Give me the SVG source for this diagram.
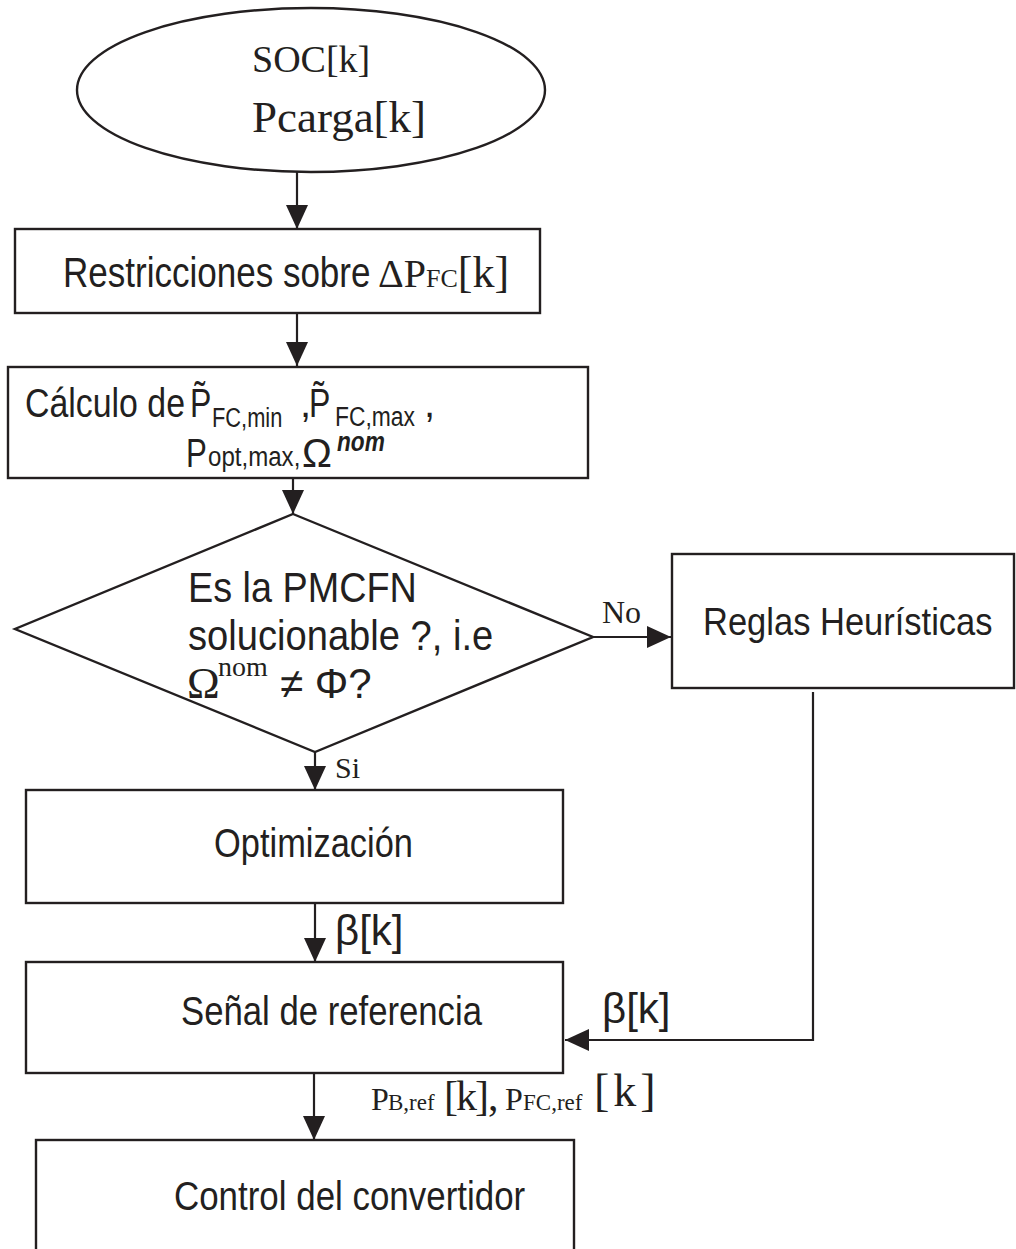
<svg xmlns="http://www.w3.org/2000/svg" width="1016" height="1249" viewBox="0 0 1016 1249">
  <style>
    .shape { fill: #ffffff; stroke: #231f20; stroke-width: 2.4; }
    .wire { fill: none; stroke: #231f20; stroke-width: 2.2; }
    .sans { font-family: "Liberation Sans", Arial, sans-serif; fill: #231f20; }
    .serif { font-family: "Liberation Serif", "Times New Roman", serif; fill: #231f20; }
  </style>
  <defs>
    <marker id="arrow" markerUnits="userSpaceOnUse" markerWidth="24" markerHeight="22" refX="24" refY="11" orient="auto">
      <path d="M0,0 L24,11 L0,22 z" fill="#231f20"/>
    </marker>
  </defs>

  <rect width="1016" height="1249" fill="#ffffff"/>

  <!-- connectors and their labels -->
  <g id="connectors">
    <line class="wire" x1="297" y1="172" x2="297" y2="229" marker-end="url(#arrow)"/>
    <line class="wire" x1="297" y1="313" x2="297" y2="366" marker-end="url(#arrow)"/>
    <line class="wire" x1="293" y1="478" x2="293" y2="514" marker-end="url(#arrow)"/>
    <line class="wire" x1="593" y1="637" x2="671" y2="637" marker-end="url(#arrow)"/>
    <line class="wire" x1="315" y1="752" x2="315" y2="790" marker-end="url(#arrow)"/>
    <line class="wire" x1="315" y1="903" x2="315" y2="962" marker-end="url(#arrow)"/>
    <line class="wire" x1="314" y1="1073" x2="314" y2="1140" marker-end="url(#arrow)"/>
    <polyline class="wire" points="813,692 813,1040 565,1040" marker-end="url(#arrow)"/>
    <text class="serif" x="602" y="623" font-size="32">No</text>
    <text class="serif" x="335" y="778" font-size="30">Si</text>
    <text class="sans" x="335" y="945" font-size="42">β[k]</text>
    <text class="sans" x="602" y="1023" font-size="42">β[k]</text>
    <text class="serif" y="1110">
      <tspan x="371" font-size="32">P</tspan><tspan x="388" font-size="23">B,ref</tspan><tspan x="444" font-size="42">[</tspan><tspan x="456" font-size="42">k</tspan><tspan x="475" font-size="42">]</tspan><tspan x="488" font-size="42">,</tspan><tspan x="505" font-size="32">P</tspan><tspan x="523" font-size="23">FC,ref</tspan><tspan x="594" y="1106" font-size="46" letter-spacing="4">[k]</tspan>
    </text>
  </g>

  <!-- start: inputs -->
  <g id="inputs">
    <ellipse class="shape" cx="311" cy="90" rx="234" ry="82"/>
    <text class="serif" x="252" y="72" font-size="38">SOC[k]</text>
    <text class="serif" x="252" y="132" font-size="45">Pcarga[k]</text>
  </g>

  <!-- constraints on the fuel-cell power step -->
  <g id="restricciones">
    <rect class="shape" x="15" y="229" width="525" height="84"/>
    <text class="sans" font-size="42" transform="translate(63 287) scale(0.834 1)">Restricciones sobre</text>
    <text class="serif" y="287">
      <tspan x="378" font-size="40">ΔP</tspan><tspan font-size="26">FC</tspan><tspan font-size="44">[k]</tspan>
    </text>
  </g>

  <!-- bounds computation -->
  <g id="calculo">
    <rect class="shape" x="8" y="367" width="580" height="111"/>
    <text class="sans" font-size="40" transform="translate(25 417) scale(0.847 1)">Cálculo de</text>
    <text class="sans" font-size="40" transform="translate(190 417) scale(0.8 1)">P̃</text>
    <text class="sans" font-size="28" transform="translate(212 427) scale(0.78 1)">FC,min</text>
    <text class="sans" x="300" y="417" font-size="40">,</text>
    <text class="sans" font-size="40" transform="translate(309 417) scale(0.8 1)">P̃</text>
    <text class="sans" font-size="28" transform="translate(335 426) scale(0.816 1)">FC,max</text>
    <text class="sans" x="424" y="417" font-size="40">,</text>
    <text class="sans" font-size="40" transform="translate(186 467) scale(0.78 1)">P</text>
    <text class="sans" font-size="28" transform="translate(208 466) scale(0.86 1)">opt,max,</text>
    <text class="sans" x="302" y="467" font-size="40">Ω</text>
    <text class="sans" font-size="27" font-weight="bold" font-style="italic" transform="translate(337 451) scale(0.84 1)">nom</text>
  </g>

  <!-- feasibility decision -->
  <g id="decision">
    <polygon class="shape" points="293,514 593,637 315,752 15,629"/>
    <text class="sans" font-size="42" transform="translate(188 602) scale(0.9 1)">Es la PMCFN</text>
    <text class="sans" font-size="42" transform="translate(188 650) scale(0.908 1)">solucionable ?, i.e</text>
    <text class="serif" x="187" y="698" font-size="44">Ω</text>
    <text class="serif" x="218" y="676" font-size="28">nom</text>
    <text class="sans" x="280" y="698" font-size="42">≠ Φ?</text>
  </g>

  <!-- heuristic fallback -->
  <g id="heuristicas">
    <rect class="shape" x="672" y="554" width="342" height="134"/>
    <text class="sans" font-size="39" transform="translate(703 635) scale(0.885 1)">Reglas Heurísticas</text>
  </g>

  <!-- optimisation -->
  <g id="optimizacion">
    <rect class="shape" x="26" y="790" width="537" height="113"/>
    <text class="sans" font-size="40" transform="translate(214 857) scale(0.861 1)">Optimización</text>
  </g>

  <!-- reference signal -->
  <g id="senal">
    <rect class="shape" x="26" y="962" width="537" height="111"/>
    <text class="sans" font-size="40" transform="translate(181 1025) scale(0.868 1)">Señal de referencia</text>
  </g>

  <!-- converter control -->
  <g id="control">
    <rect class="shape" x="36" y="1140" width="538" height="140"/>
    <text class="sans" font-size="40" transform="translate(174 1210) scale(0.873 1)">Control del convertidor</text>
  </g>
</svg>
